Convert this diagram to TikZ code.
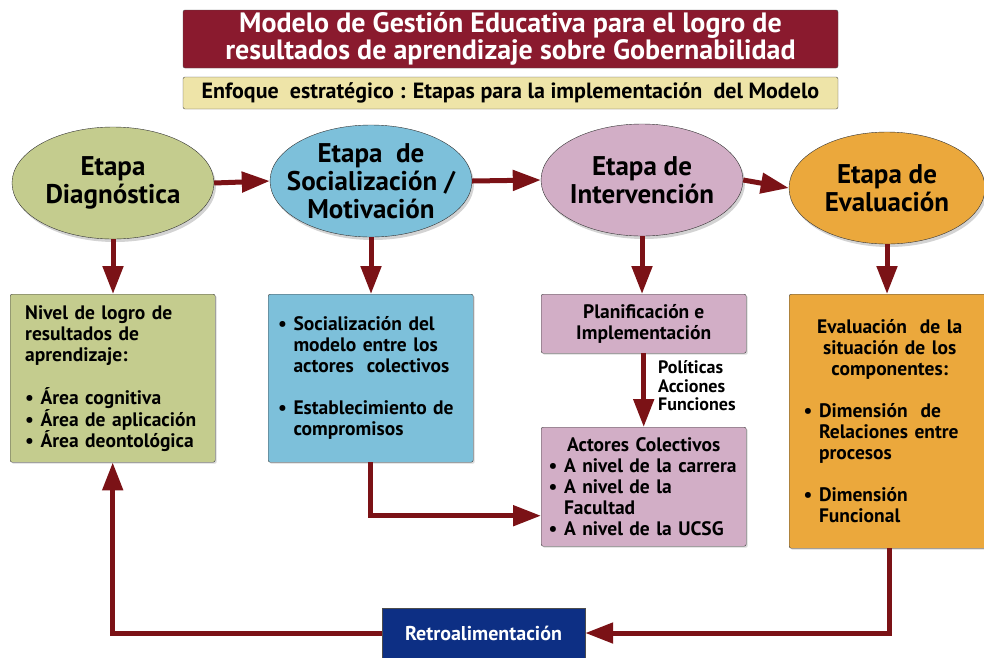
\documentclass[tikz,border=0pt]{standalone}
\usepackage{fontspec}
\setmainfont{PT Sans}
\usetikzlibrary{shapes.geometric,arrows.meta,shadows}

\definecolor{titlered}{HTML}{8A1A2E}
\definecolor{paleyellow}{HTML}{EEE4A8}
\definecolor{stagegreen}{HTML}{C4CC8E}
\definecolor{stageblue}{HTML}{7DC0DA}
\definecolor{stagepink}{HTML}{D2AEC6}
\definecolor{stageorange}{HTML}{EBA83C}
\definecolor{retroblue}{HTML}{0D2F84}
\definecolor{arrowred}{HTML}{7B1216}

\newcommand{\bul}{\textbullet\ }
\newcommand{\ind}{\hphantom{\textbullet\ }}

\begin{document}
\begin{tikzpicture}[x=1pt,y=-1pt,
  stage/.style={ellipse, draw=black!80, thin, minimum width=202pt, minimum height=112pt,
    inner sep=-25pt, align=center, font=\fontsize{27}{28}\selectfont\bfseries,
    drop shadow={opacity=0.35, shadow xshift=2pt, shadow yshift=-3pt}},
  panel/.style={rectangle, draw=black!75, rounded corners=2pt, anchor=north west,
    inner sep=0pt, font=\fontsize{19.5}{21}\selectfont\bfseries,
    drop shadow={opacity=0.3, shadow xshift=1.5pt, shadow yshift=-1.5pt}},
  banner/.style={rectangle, draw=black!70, rounded corners=2pt, inner sep=0pt,
    minimum width=655pt, align=center},
  flow/.style={draw=arrowred, line width=5pt, -{Triangle[length=28pt,width=20pt]}}]
  \useasboundingbox (0,0) rectangle (984,657);

  % Header
  \node[banner, fill=titlered, text=white, minimum height=58pt,
    font=\fontsize{28}{27}\selectfont\bfseries] (title) at (510.5,39)
    {Modelo de Gestión Educativa para el logro de\\resultados de aprendizaje sobre Gobernabilidad};
  \node[banner, fill=paleyellow, minimum height=32pt,
    font=\fontsize{22}{24}\selectfont\bfseries] (focus) at (510.5,93)
    {Enfoque\ \ estratégico : Etapas para la implementación\ \ del Modelo};

  % Stages
  \node[stage, fill=stagegreen] (diag) at (113,183) {Etapa\\Diagnóstica};
  \node[stage, fill=stageblue] (soc) at (371,181) {Etapa\ \ de\\Socialización /\\Motivación};
  \node[stage, fill=stagepink] (inter) at (642,180) {Etapa de\\Intervención};
  \node[stage, fill=stageorange, minimum width=196pt] (eval) at (887,188) {Etapa de\\Evaluación};

  % Panels
  \node[panel, fill=stagegreen, minimum width=205pt, minimum height=168pt, text width=175pt]
    (nivel) at (10,294)
    {Nivel de logro de\\resultados de\\aprendizaje:\\[21pt]
     \bul Área cognitiva\\\bul Área de aplicación\\\bul Área deontológica};
  \node[panel, fill=stageblue, minimum width=205pt, minimum height=168pt, text width=185pt]
    (socbox) at (268,294)
    {\bul Socialización del\\\ind modelo entre los\\\ind actores\ \ colectivos\\[21pt]
     \bul Establecimiento de\\\ind compromisos};
  \node[panel, fill=stagepink, minimum width=205pt, minimum height=59pt, align=center]
    (plan) at (541,294) {Planificación e\\Implementación};
  \node[panel, fill=stagepink, minimum width=205pt, minimum height=119pt, text width=190pt]
    (actores) at (541,427)
    {\centering Actores Colectivos\\\raggedright
     \bul A nivel de la carrera\\\bul A nivel de la\\\ind Facultad\\\bul A nivel de la UCSG};
  \node[panel, fill=stageorange, minimum width=201pt, minimum height=254pt, text width=172pt]
    (evalbox) at (789,294)
    {{\centering Evaluación\ \ de la\\situación de los\\componentes:\par}\vspace{21pt}
     \raggedright\bul Dimensión\ \ de\\\ind Relaciones entre\\\ind procesos\\[21pt]
     \bul Dimensión\\\ind Funcional};
  \node[rectangle, draw=black!70, fill=retroblue, text=white, minimum width=203pt,
    minimum height=50pt, inner sep=0pt, font=\fontsize{20}{22}\selectfont\bfseries]
    (retro) at (483.5,633) {Retroalimentación};
  \node[anchor=west, align=left, inner sep=0pt, font=\fontsize{18}{18.5}\selectfont\bfseries]
    (tools) at (658,386) {Políticas\\Acciones\\Funciones};

  % Edges
  \draw[flow] (diag.east) -- (soc.west);
  \draw[flow] (soc.east) -- (inter.west);
  \draw[flow] (inter.east) -- (eval.west);
  \draw[flow] (diag.south) -- (diag.south |- nivel.north);
  \draw[flow] (soc.south) -- (soc.south |- socbox.north);
  \draw[flow] (inter.south) -- (inter.south |- plan.north);
  \draw[flow] (eval.south) -- (eval.south |- evalbox.north);
  \draw[flow] (plan.south) -- (actores.north);
  \draw[flow] (socbox.south) |- ([yshift=-29pt]actores.west);
  \draw[flow] (evalbox.south) |- (retro.east);
  \draw[flow] (retro.west) -| (nivel.south);
\end{tikzpicture}
\end{document}
